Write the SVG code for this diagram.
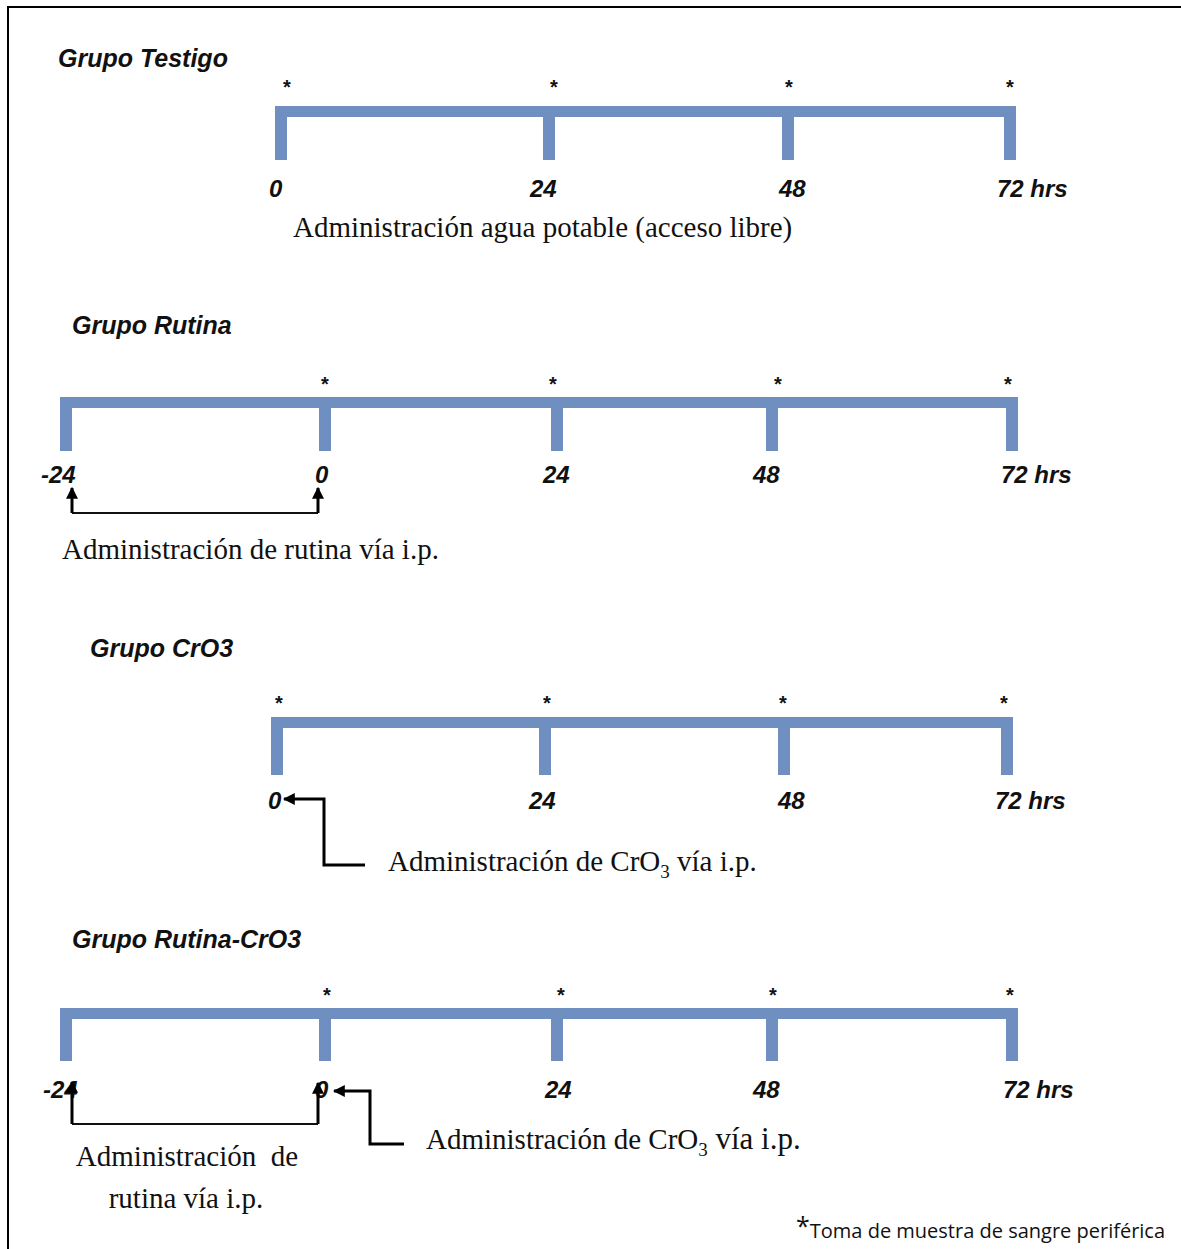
<svg xmlns="http://www.w3.org/2000/svg" width="1181" height="1249" viewBox="0 0 1181 1249">
<defs>
<style>
.bar{fill:#6e8fbf}
.title{font-family:"Liberation Sans",Arial,sans-serif;font-weight:bold;font-style:italic;font-size:25px;fill:#111}
.tick{font-family:"Liberation Sans",Arial,sans-serif;font-weight:bold;font-style:italic;font-size:24px;fill:#111}
.star{font-family:"Liberation Sans",Arial,sans-serif;font-weight:bold;font-size:20px;fill:#111;text-anchor:middle}
.note{font-family:"Liberation Serif","Times New Roman",serif;font-size:29px;fill:#111}
.foot{font-family:"Open Sans","Liberation Sans",sans-serif;font-size:20px;fill:#111}
.thin{fill:none;stroke:#111;stroke-width:2}
.thick{fill:none;stroke:#000;stroke-width:3}
</style>
<marker id="ah" viewBox="0 0 10 10" refX="9" refY="5" markerWidth="4" markerHeight="4" orient="auto" markerUnits="strokeWidth">
<path d="M0,0 L10,5 L0,10 z" fill="#000"/>
</marker>
</defs>
<rect width="1181" height="1249" fill="#fff"/>
<path d="M8,1249 V7 H1181" fill="none" stroke="#000" stroke-width="2"/>

<g id="grupo-testigo">
<text class="title" x="58" y="67">Grupo Testigo</text>
<path class="bar" d="M275,106 H1016 V160 H1004 V117 H794 V160 H782 V117 H555 V160 H543 V117 H287 V160 H275 Z"/>
<text class="star" x="287" y="94">*</text>
<text class="star" x="554" y="94">*</text>
<text class="star" x="789" y="94">*</text>
<text class="star" x="1010" y="94">*</text>
<text class="tick" x="269" y="197">0</text>
<text class="tick" x="530" y="197">24</text>
<text class="tick" x="779" y="197">48</text>
<text class="tick" x="997" y="197">72 hrs</text>
<text class="note" x="293" y="237">Administración agua potable (acceso libre)</text>
</g>

<g id="grupo-rutina">
<text class="title" x="72" y="334">Grupo Rutina</text>
<path class="bar" d="M60,397 H1018 V451 H1006 V408 H778 V451 H766 V408 H563 V451 H551 V408 H331 V451 H319 V408 H72 V451 H60 Z"/>
<text class="star" x="325" y="391">*</text>
<text class="star" x="553" y="391">*</text>
<text class="star" x="778" y="391">*</text>
<text class="star" x="1008" y="391">*</text>
<text class="tick" x="41" y="483">-24</text>
<text class="tick" x="315" y="483">0</text>
<text class="tick" x="543" y="483">24</text>
<text class="tick" x="753" y="483">48</text>
<text class="tick" x="1001" y="483">72 hrs</text>
<text class="note" x="62" y="559">Administración de rutina vía i.p.</text>
</g>

<g id="grupo-cro3">
<text class="title" x="90" y="657">Grupo CrO3</text>
<path class="bar" d="M271,717 H1013 V775 H1001 V728 H790 V775 H778 V728 H551 V775 H539 V728 H283 V775 H271 Z"/>
<text class="star" x="279" y="710">*</text>
<text class="star" x="547" y="710">*</text>
<text class="star" x="783" y="710">*</text>
<text class="star" x="1004" y="710">*</text>
<text class="tick" x="268" y="809">0</text>
<text class="tick" x="529" y="809">24</text>
<text class="tick" x="778" y="809">48</text>
<text class="tick" x="995" y="809">72 hrs</text>
<text class="note" x="388" y="871">Administración de CrO<tspan font-size="19" dy="7">3</tspan><tspan dy="-7"> vía i.p.</tspan></text>
</g>

<g id="grupo-rutina-cro3">
<text class="title" x="72" y="948">Grupo Rutina-CrO3</text>
<path class="bar" d="M60,1008 H1018 V1061 H1006 V1019 H778 V1061 H766 V1019 H563 V1061 H551 V1019 H331 V1061 H319 V1019 H72 V1061 H60 Z"/>
<text class="star" x="327" y="1002">*</text>
<text class="star" x="561" y="1002">*</text>
<text class="star" x="773" y="1002">*</text>
<text class="star" x="1010" y="1002">*</text>
<text class="tick" x="43" y="1098">-24</text>
<text class="tick" x="315" y="1098">0</text>
<text class="tick" x="545" y="1098">24</text>
<text class="tick" x="753" y="1098">48</text>
<text class="tick" x="1003" y="1098">72 hrs</text>
<text class="note" x="426" y="1149">Administración de CrO<tspan font-size="19" dy="7">3</tspan><tspan dy="-7" font-size="31"> vía i.p.</tspan></text>
<text class="note" x="187" y="1166" text-anchor="middle" xml:space="preserve">Administración  de</text>
<text class="note" x="186" y="1208" text-anchor="middle">rutina vía i.p.</text>
</g>

<g id="nota">
<text class="foot" x="796" y="1238"><tspan font-size="25" dy="-3">*</tspan><tspan dy="3">Toma de muestra de sangre periférica</tspan></text>
</g>

<g id="connectors">
<path class="thin" d="M72,513 H318"/>
<path class="thick" d="M72,513 V488" marker-end="url(#ah)"/>
<path class="thick" d="M318,513 V488" marker-end="url(#ah)"/>
<path class="thick" d="M365,865 H324 V799 H284" marker-end="url(#ah)"/>
<path class="thin" d="M72,1124 H318"/>
<path class="thick" d="M72,1124 V1082" marker-end="url(#ah)"/>
<path class="thick" d="M318,1124 V1083" marker-end="url(#ah)"/>
<path class="thick" d="M404,1144 H370 V1091 H334" marker-end="url(#ah)"/>
</g>
</svg>
